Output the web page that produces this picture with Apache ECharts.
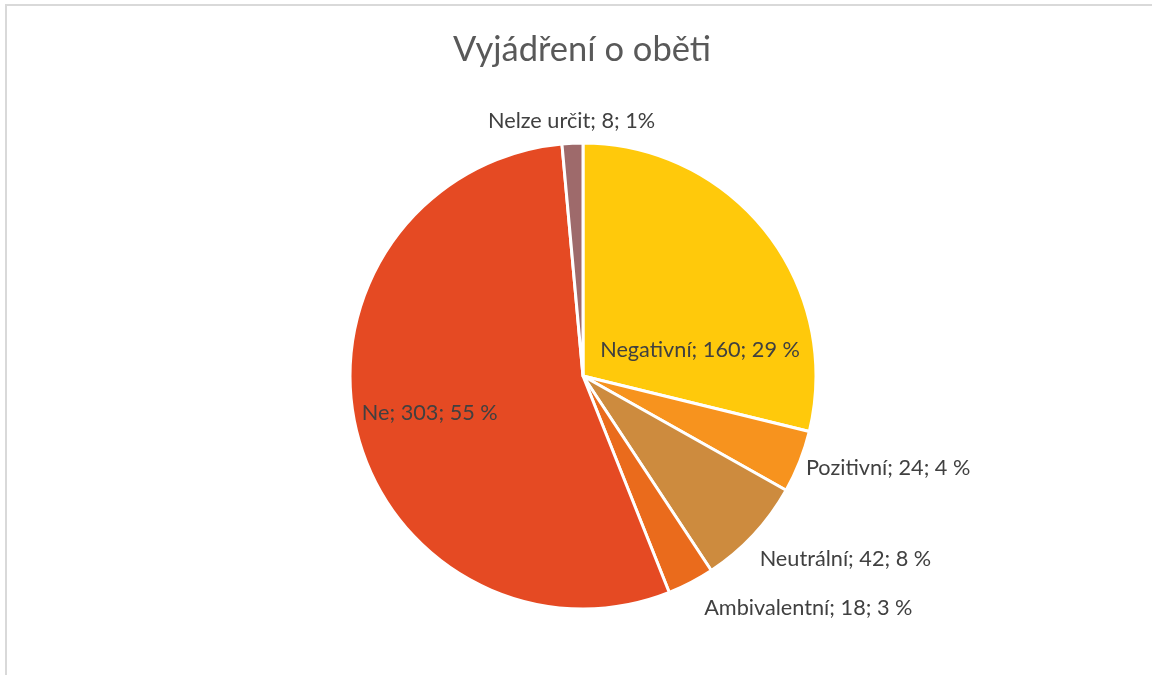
<!DOCTYPE html>
<html>
<head>
<meta charset="utf-8">
<script src="https://cdn.jsdelivr.net/npm/echarts@6/dist/echarts.min.js"></script>
<style>
html,body{margin:0;padding:0;background:#fff;}
#chart{width:1152px;height:675px;}
</style>
</head>
<body>
<div id="chart"></div>
<script>
const chartTitle = 'Vyjádření o oběti';
const categories = ['Negativní', 'Pozitivní', 'Neutrální', 'Ambivalentní', 'Ne', 'Nelze určit'];
const values = [160, 24, 42, 18, 303, 8];
const percentLabels = ['29 %', '4 %', '8 %', '3 %', '55 %', '1%'];
const colors = ['#FFC90B', '#F7931E', '#CD8B3E', '#EA6B1C', '#E54A23', '#9E6A6B'];

// label placement (Excel "best fit" look)
const labelOffsets = {
  'Negativní': [23, 48],
  'Pozitivní': [194, 48],
  'Neutrální': [175, 102],
  'Ambivalentní': [170, 126],
  'Ne': [-37, 9],
  'Nelze určit': [-6, -136]
};

const data = categories.map((name, i) => ({
  name: name,
  value: values[i],
  itemStyle: { color: colors[i] },
  label: { offset: labelOffsets[name] }
}));

const chart = echarts.init(document.getElementById('chart'), null, { renderer: 'canvas' });
chart.setOption({
  backgroundColor: '#ffffff',
  animation: false,
  title: {
    text: chartTitle,
    left: 577,
    textAlign: 'center',
    top: 27,
    textStyle: { fontFamily: 'Lato', fontSize: 34.5, fontWeight: 'normal', color: '#595959' }
  },
  graphic: [{
    type: 'rect',
    shape: { x: 6, y: 5, width: 1200, height: 700 },
    style: { fill: 'none', stroke: '#d9d9d9', lineWidth: 2 },
    silent: true
  }],
  series: [{
    type: 'pie',
    center: [583, 376],
    radius: 233,
    startAngle: 90,
    clockwise: true,
    avoidLabelOverlap: false,
    data: data,
    itemStyle: { borderColor: '#ffffff', borderWidth: 3 },
    label: {
      show: true,
      position: 'inside',
      fontFamily: 'Lato',
      fontSize: 21.7,
      color: '#404040',
      formatter: function (p) {
        return p.name + '; ' + p.value + '; ' + percentLabels[p.dataIndex];
      }
    },
    labelLine: { show: false },
    emphasis: { disabled: true }
  }]
});
</script>
</body>
</html>
